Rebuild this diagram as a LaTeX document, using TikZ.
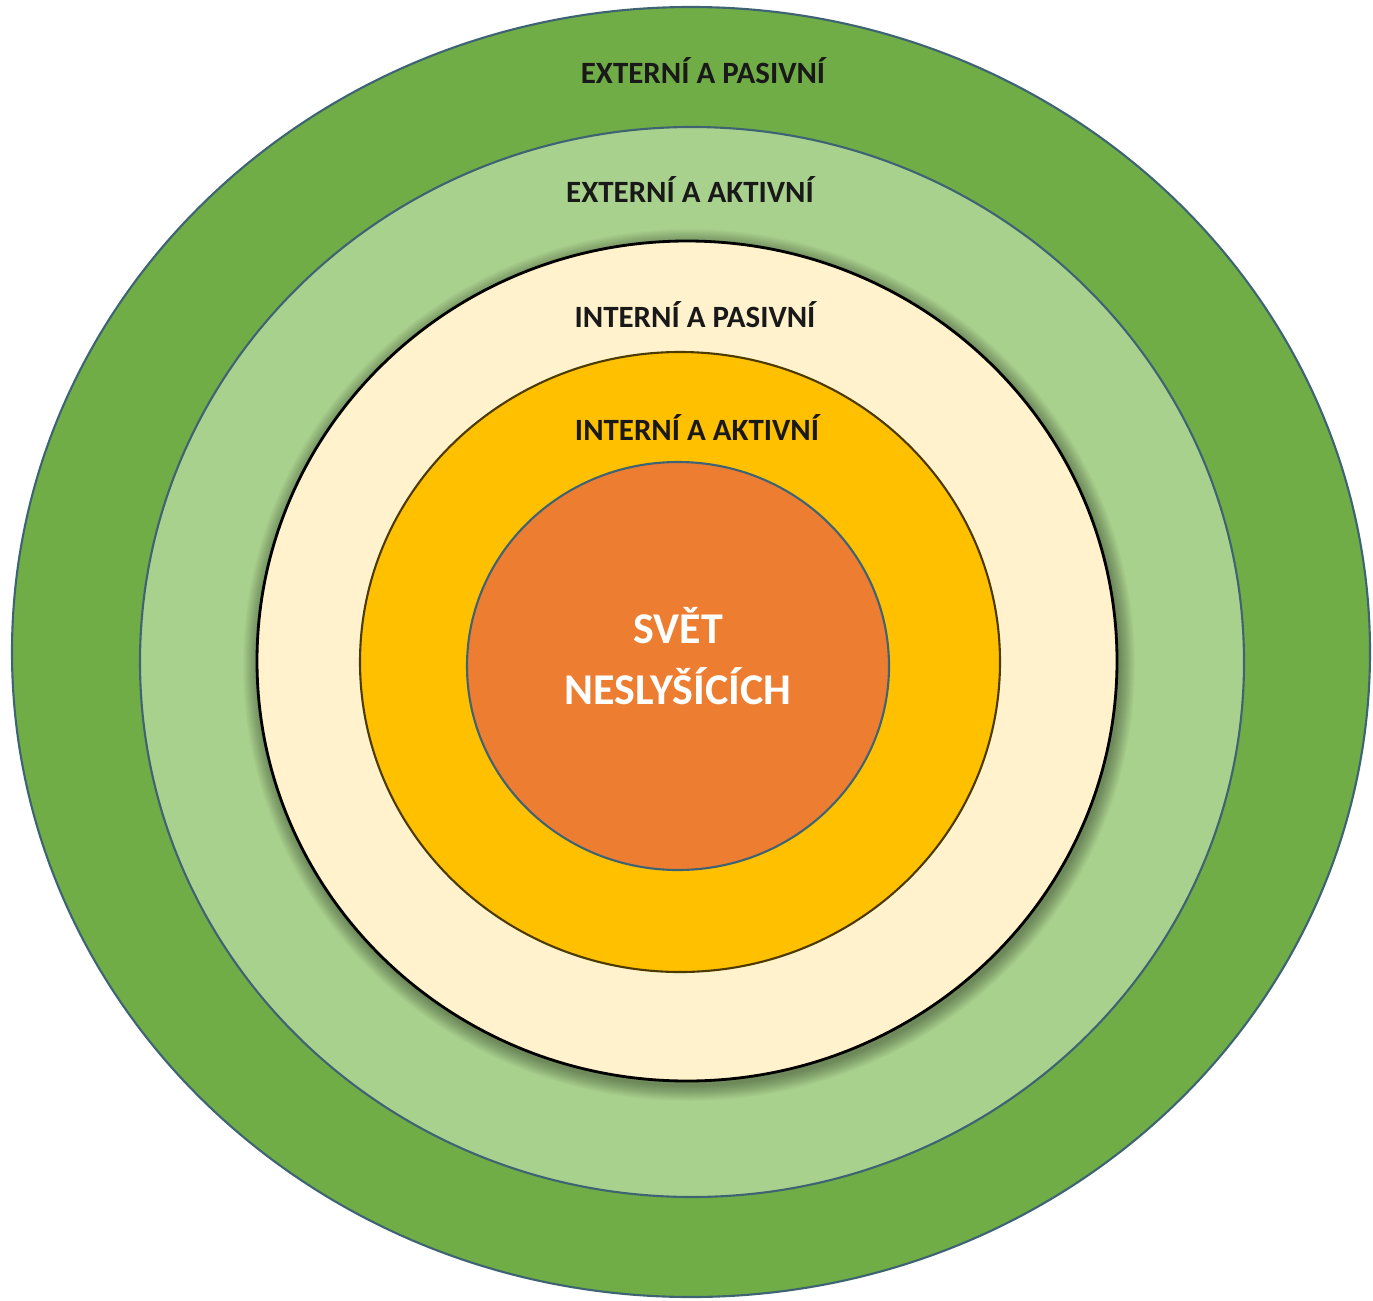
\documentclass[tikz,border=0pt]{standalone}
\usepackage{fontspec}
\setmainfont{Carlito}
\definecolor{darkgreen}{HTML}{70AD47}
\definecolor{lightgreen}{HTML}{A9D18E}
\definecolor{cream}{HTML}{FFF2CC}
\definecolor{gold}{HTML}{FFC000}
\definecolor{orange}{HTML}{ED7D31}
\definecolor{rim}{HTML}{3E6473}
\tikzset{
    ring/.style={draw=rim, line width=0.6pt},
    ringlabel/.style={font=\bfseries\fontsize{8.8}{10}\selectfont, text=black!90},
    centerlabel/.style={font=\bfseries\fontsize{12.5}{17.5}\selectfont, text=white, align=center}
}
\begin{document}
\begin{tikzpicture}[x=0.01cm, y=-0.01cm]
    \useasboundingbox (0,0) rectangle (1373,1300);
    \fill[white] (0,0) rectangle (1373,1300);
    % rings from outside in
    \filldraw[ring, fill=darkgreen] (691,652) ellipse [x radius=679, y radius=645];
    \filldraw[ring, fill=lightgreen] (692,662) ellipse [x radius=552, y radius=535];
    % soft shadow round the cream ring
    \foreach \d in {1,...,16}
        \fill[black, opacity=0.025] (689,665) ellipse [x radius=430+\d, y radius=420+\d];
    \filldraw[draw=black, line width=0.8pt, fill=cream] (687,661) ellipse [x radius=430, y radius=420];
    \filldraw[draw=black!70!gold, line width=0.6pt, fill=gold] (680,662) ellipse [x radius=320, y radius=310];
    \filldraw[ring, fill=orange] (678,666) ellipse [x radius=211, y radius=204];
    % labels
    \node[ringlabel] (extpas) at (703,71) {EXTERNÍ A PASIVNÍ};
    \node[ringlabel] (extakt) at (690,190) {EXTERNÍ A AKTIVNÍ};
    \node[ringlabel] (intpas) at (695,315) {INTERNÍ A PASIVNÍ};
    \node[ringlabel] (intakt) at (697,428) {INTERNÍ A AKTIVNÍ};
    \node[centerlabel] (svet) at (678,656) {SVĚT\\NESLYŠÍCÍCH};
\end{tikzpicture}
\end{document}
